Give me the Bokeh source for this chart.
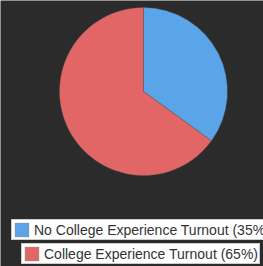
import math
from bokeh.plotting import figure
from bokeh.models import Range1d, Legend, LegendItem
from bokeh.embed import file_html
from bokeh.resources import INLINE

labels = ["No College Experience Turnout (35%)", "College Experience Turnout (65%)"]
values = [35, 65]
colors = ["#5aa5e8", "#e36666"]

W, H = 263, 266
p = figure(width=W, height=H, output_backend="svg", toolbar_location=None,
           x_range=Range1d(0, W), y_range=Range1d(0, H), min_border=0)
p.axis.visible = False
p.grid.visible = False
p.outline_line_color = None
p.background_fill_color = "#2b2b2c"
p.border_fill_color = "#2b2b2c"

total = sum(values)
starts, ends = [], []
a = math.pi / 2
for v in values:
    starts.append(a)
    a -= 2 * math.pi * v / total
    ends.append(a)

renderers = []
for i in range(len(values)):
    r = p.wedge(x=143, y=175, radius=84, radius_units="screen",
                start_angle=starts[i], end_angle=ends[i], direction="clock",
                fill_color=colors[i], line_color="#555555", line_width=0.6,
                line_alpha=0.6)
    renderers.append(r)

locs = [(11, 26), (21, 2)]
for i, r in enumerate(renderers):
    leg = Legend(items=[LegendItem(label=labels[i], renderers=[r])],
                 location=locs[i])
    leg.background_fill_color = "white"
    leg.background_fill_alpha = 1.0
    leg.border_line_color = "#999999"
    leg.border_line_width = 1
    leg.label_text_font = "Liberation Sans"
    leg.label_text_font_size = "14px"
    leg.label_text_color = "#333333"
    leg.glyph_width = 17
    leg.glyph_height = 17
    leg.label_height = 14
    leg.label_standoff = 4
    leg.padding = 1
    leg.margin = 0
    leg.spacing = 0
    p.add_layout(leg, "center")

open("out.html", "w").write(file_html(p, INLINE))
